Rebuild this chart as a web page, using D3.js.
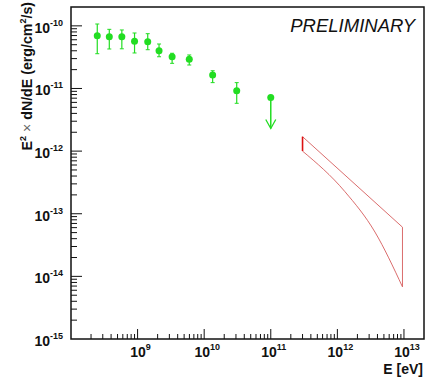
<!DOCTYPE html>
<html>
<head>
<meta charset="utf-8">
<script src="https://cdn.jsdelivr.net/npm/d3@7"></script>
<style>
  html, body { margin: 0; padding: 0; background: #fff; }
  svg { display: block; }
  text { font-family: "Liberation Sans", Arial, sans-serif; }
</style>
</head>
<body>
<svg id="chart" width="426" height="378"></svg>
<script>
// ---- data ----
const energies   = [2.48e8, 3.76e8, 5.8e8, 9.0e8, 1.42e9, 2.1e9, 3.3e9, 5.97e9, 1.34e10, 3.08e10];
const fluxes     = [6.97e-11, 6.7e-11, 6.7e-11, 5.66e-11, 5.58e-11, 4.01e-11, 3.21e-11, 2.92e-11, 1.64e-11, 9.2e-12];
const fluxHigh   = [1.07e-10, 8.8e-11, 8.6e-11, 7.69e-11, 7.5e-11, 5.13e-11, 3.65e-11, 3.43e-11, 1.92e-11, 1.24e-11];
const fluxLow    = [3.59e-11, 4.27e-11, 4.3e-11, 3.69e-11, 4.16e-11, 3.21e-11, 2.52e-11, 2.37e-11, 1.24e-11, 5.8e-12];
const ulEnergy   = [1.0e11];
const ulFlux     = [7.2e-12];
const ulArrowEnd = [2.3e-12];
const bandUpperE = [3.0e11, 9.5e12];
const bandUpperF = [1.7e-12, 6.1e-14];
const bandLowerE = [3.0e11, 1.3e12, 3.67e12, 9.5e12];
const bandLowerF = [1.0e-12, 2.25e-13, 5.1e-14, 6.8e-15];
const xMajorExp  = [9, 10, 11, 12, 13];
const yMajorExp  = [-10, -11, -12, -13, -14, -15];
const xTitle = "E [eV]";
const note = "PRELIMINARY";

// ---- layout ----
const svg = d3.select("#chart");
const L = 71, R = 424, T = 7, B = 339;
const x = d3.scaleLog().domain([1e8, 2e13]).range([L, R]);
const y = d3.scaleLog().domain([1e-15, 2e-10]).range([B, T]);

const green = "#22dd22";
const ink = "#111";
const red = "#d65c5c";

function logTicks(domain) {
  const out = [];
  const lo = Math.floor(Math.log10(domain[0])), hi = Math.ceil(Math.log10(domain[1]));
  for (let e = lo; e <= hi; e++) {
    for (let k = 1; k <= 9; k++) {
      const v = k * Math.pow(10, e);
      if (v >= domain[0] * 0.9999 && v <= domain[1] * 1.0001) out.push({v, k, major: k === 1});
    }
  }
  return out;
}

const g = svg.append("g");

// x ticks (inside, upward)
g.selectAll(".xt").data(logTicks(x.domain()).filter(d => d.v > x.domain()[0]*1.001 && d.v < x.domain()[1]*0.999))
  .enter().append("line")
  .attr("x1", d => x(d.v)).attr("x2", d => x(d.v))
  .attr("y1", B).attr("y2", d => B - (d.major ? 10 : 5))
  .attr("stroke", ink).attr("stroke-width", 1);

// y ticks (inside, rightward)
g.selectAll(".yt").data(logTicks(y.domain()).filter(d => d.v > y.domain()[0]*1.001 && d.v < y.domain()[1]*0.999))
  .enter().append("line")
  .attr("y1", d => y(d.v)).attr("y2", d => y(d.v))
  .attr("x1", L).attr("x2", d => L + (d.major ? 11 : 6))
  .attr("stroke", ink).attr("stroke-width", 1);

// frame
g.append("rect").attr("x", L).attr("y", T).attr("width", R - L).attr("height", B - T)
  .attr("fill", "none").attr("stroke", ink).attr("stroke-width", 1.5);

// y tick labels
const yl = g.selectAll(".yl").data(yMajorExp).enter().append("text")
  .attr("x", 63).attr("y", d => y(Math.pow(10, d)) + 7)
  .attr("text-anchor", "end").attr("font-size", 14).attr("font-weight", "bold").attr("fill", ink);
yl.append("tspan").text("10");
yl.append("tspan").attr("dy", -7).attr("font-size", 9).text(d => d);

// x tick labels
const xl = g.selectAll(".xl").data(xMajorExp).enter().append("text")
  .attr("x", d => x(Math.pow(10, d)) + 3).attr("y", 357)
  .attr("text-anchor", "middle").attr("font-size", 14).attr("font-weight", "bold").attr("fill", ink);
xl.append("tspan").text("10");
xl.append("tspan").attr("dy", -7).attr("font-size", 9).text(d => d);

// axis titles
g.append("text").attr("x", 423).attr("y", 374).attr("text-anchor", "end")
  .attr("font-size", 14).attr("font-weight", "bold").attr("fill", ink).text(xTitle);

const yt = g.append("text").attr("transform", "translate(32,2) rotate(-90)")
  .attr("text-anchor", "end").attr("font-size", 14.2).attr("font-weight", "bold").attr("fill", ink);
yt.append("tspan").text("E");
yt.append("tspan").attr("dy", -6).attr("font-size", 9).text("2");
yt.append("tspan").attr("dy", 6).attr("font-weight", "normal").attr("fill", "#666").text(" \u00d7 ");
yt.append("tspan").text("dN/dE (erg/cm");
yt.append("tspan").attr("dy", -6).attr("font-size", 9).text("2");
yt.append("tspan").attr("dy", 6).text("/s)");

// PRELIMINARY
g.append("text").attr("x", 415).attr("y", 32).attr("text-anchor", "end")
  .attr("font-size", 18.5).attr("font-style", "italic").attr("fill", ink).text(note);

// butterfly band
const upper = bandUpperE.map((e, i) => [x(e), y(bandUpperF[i])]);
const lower = bandLowerE.map((e, i) => [x(e), y(bandLowerF[i])]);
const curve = d3.line().curve(d3.curveMonotoneX);
g.append("path").attr("d", curve(upper)).attr("fill", "none").attr("stroke", red).attr("stroke-width", 0.9);
g.append("path").attr("d", curve(lower)).attr("fill", "none").attr("stroke", red).attr("stroke-width", 0.9);
g.append("line").attr("x1", upper[upper.length-1][0]).attr("x2", lower[lower.length-1][0])
  .attr("y1", upper[upper.length-1][1]).attr("y2", lower[lower.length-1][1])
  .attr("stroke", red).attr("stroke-width", 0.9);
g.append("line").attr("x1", upper[0][0]).attr("x2", lower[0][0])
  .attr("y1", upper[0][1]).attr("y2", lower[0][1])
  .attr("stroke", "#dd1111").attr("stroke-width", 1.6);

// error bars
const pts = energies.map((e, i) => ({e, f: fluxes[i], hi: fluxHigh[i], lo: fluxLow[i]}));
g.selectAll(".eb").data(pts).enter().append("line")
  .attr("x1", d => x(d.e)).attr("x2", d => x(d.e))
  .attr("y1", d => y(d.hi)).attr("y2", d => y(d.lo))
  .attr("stroke", green).attr("stroke-width", 1.2);
g.selectAll(".ct").data(pts).enter().append("line")
  .attr("x1", d => x(d.e) - 2).attr("x2", d => x(d.e) + 2)
  .attr("y1", d => y(d.hi)).attr("y2", d => y(d.hi))
  .attr("stroke", green).attr("stroke-width", 1);
g.selectAll(".cb").data(pts).enter().append("line")
  .attr("x1", d => x(d.e) - 2).attr("x2", d => x(d.e) + 2)
  .attr("y1", d => y(d.lo)).attr("y2", d => y(d.lo))
  .attr("stroke", green).attr("stroke-width", 1);
g.selectAll(".pt").data(pts).enter().append("circle")
  .attr("cx", d => x(d.e)).attr("cy", d => y(d.f)).attr("r", 3.5).attr("fill", green);

// upper limit
const ul = ulEnergy.map((e, i) => ({e, f: ulFlux[i], end: ulArrowEnd[i]}));
ul.forEach(d => {
  const cx = x(d.e), y0 = y(d.f), y1 = y(d.end);
  g.append("line").attr("x1", cx).attr("x2", cx).attr("y1", y0).attr("y2", y1)
    .attr("stroke", green).attr("stroke-width", 1.5);
  g.append("path").attr("d", `M${cx-5},${y1-9}L${cx},${y1}L${cx+5},${y1-9}`)
    .attr("fill", "none").attr("stroke", green).attr("stroke-width", 1.3);
  g.append("circle").attr("cx", cx).attr("cy", y0).attr("r", 3.5).attr("fill", green);
});
</script>
</body>
</html>
